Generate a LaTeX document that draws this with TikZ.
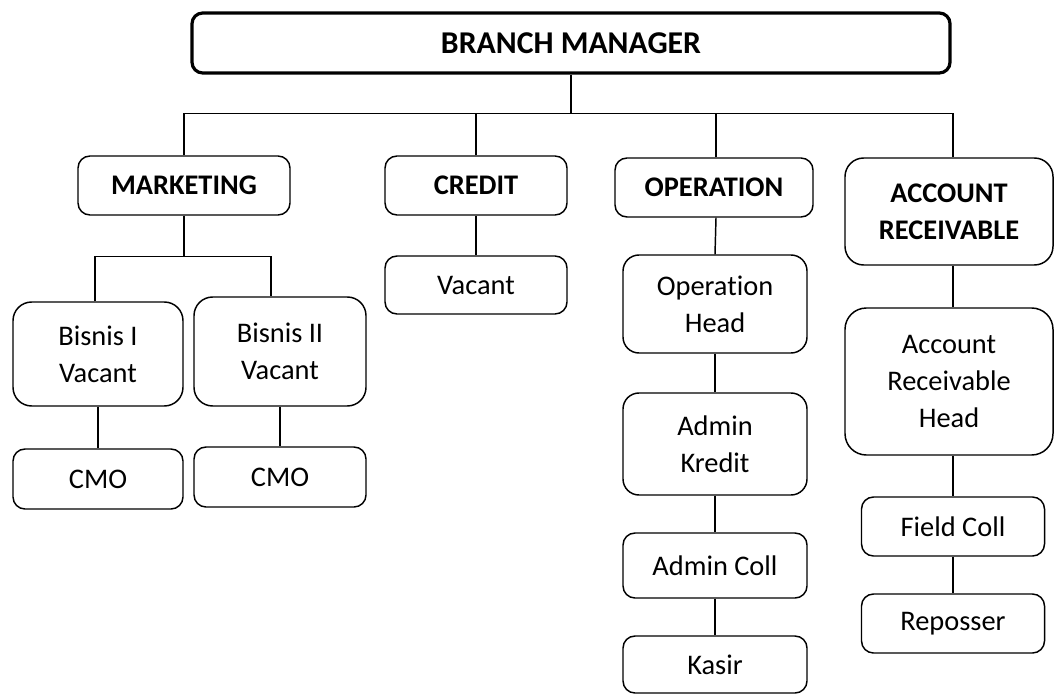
\documentclass[tikz,border=0pt]{standalone}
\usepackage{fontspec}
\setmainfont{Carlito}[Ligatures=NoCommon]
\begin{document}
\begin{tikzpicture}[x=0.75pt,y=-0.75pt,
  box/.style={draw=black,line width=1.1pt,rounded corners=9pt,inner sep=0pt,align=center,
    font=\fontsize{21.3}{27.5}\selectfont},
  hbox/.style={box,font=\fontsize{21.3}{27.5}\selectfont\bfseries},
  conn/.style={draw=black,line width=1.1pt}]
\useasboundingbox (0,0) rectangle (1055,695);
% top
\node[hbox,line width=2.4pt,rounded corners=8pt,minimum width=758*0.75pt,minimum height=60*0.75pt,
  font=\fontsize{23.8}{28}\selectfont\bfseries] (bm) at (571,43) {BRANCH MANAGER};
% second row
\node[hbox,minimum width=212*0.75pt,minimum height=59*0.75pt] (mkt) at (184,185.5) {MARKETING};
\node[hbox,minimum width=182*0.75pt,minimum height=59*0.75pt] (cred) at (476,185.5) {CREDIT};
\node[hbox,minimum width=198*0.75pt,minimum height=59*0.75pt] (op) at (714,187.5) {OPERATION};
\node[hbox,rounded corners=14pt,minimum width=208*0.75pt,minimum height=107*0.75pt] (ar) at (949,211.5) {ACCOUNT\\RECEIVABLE};
% marketing branch
\node[box,rounded corners=14pt,minimum width=170*0.75pt,minimum height=104*0.75pt] (b1) at (98,354) {Bisnis I\\Vacant};
\node[box,rounded corners=14pt,minimum width=172*0.75pt,minimum height=109*0.75pt] (b2) at (280,351.5) {Bisnis II\\Vacant};
\node[box,minimum width=170*0.75pt,minimum height=60*0.75pt] (cmo1) at (98,479) {CMO};
\node[box,minimum width=172*0.75pt,minimum height=60*0.75pt] (cmo2) at (280,477) {CMO};
% credit branch
\node[box,minimum width=182*0.75pt,minimum height=58*0.75pt] (vac) at (476,285) {Vacant};
% operation branch
\node[box,rounded corners=12pt,minimum width=184*0.75pt,minimum height=98*0.75pt] (oph) at (715,304) {Operation\\Head};
\node[box,rounded corners=12pt,minimum width=184*0.75pt,minimum height=102*0.75pt] (adk) at (715,444) {Admin\\Kredit};
\node[box,minimum width=184*0.75pt,minimum height=65*0.75pt] (adc) at (715,565.5) {Admin Coll};
\node[box,minimum width=184*0.75pt,minimum height=57*0.75pt] (kas) at (715,664.5) {Kasir};
% account receivable branch
\node[box,rounded corners=16pt,minimum width=208*0.75pt,minimum height=147*0.75pt] (arh) at (949,381.5) {Account\\Receivable\\Head};
\node[box,minimum width=183*0.75pt,minimum height=59*0.75pt] (fc) at (953,526.5) {Field Coll};
\node[box,minimum width=183*0.75pt,minimum height=59*0.75pt] (rep) at (953,623.5) {Reposser};
% connectors
\draw[conn] (bm.south) -- ++(0,39) coordinate (bj);
\draw[conn] (mkt.north) |- (bj) -| ([xshift=3pt]ar.north);
\draw[conn] (cred.north) -- (cred.north |- bj);
\draw[conn] ([xshift=1.5pt]op.north) -- ([xshift=1.5pt]op.north |- bj);
\draw[conn] (mkt.south) -- ++(0,41) coordinate (mj);
\draw[conn] ([xshift=-2.25pt]b1.north) |- (mj) -| ([xshift=-6.75pt]b2.north);
\draw[conn] (b1.south) -- (cmo1.north);
\draw[conn] (b2.south) -- (cmo2.north);
\draw[conn] (cred.south) -- (vac.north);
\draw[conn] ([xshift=1.5pt]op.south) -- (oph.north);
\draw[conn] (oph.south) -- (adk.north);
\draw[conn] (adk.south) -- (adc.north);
\draw[conn] (adc.south) -- (kas.north);
\draw[conn] ([xshift=3pt]ar.south) -- ([xshift=3pt]arh.north);
\draw[conn] ([xshift=3pt]arh.south) -- (fc.north);
\draw[conn] (fc.south) -- (rep.north);
\end{tikzpicture}
\end{document}
